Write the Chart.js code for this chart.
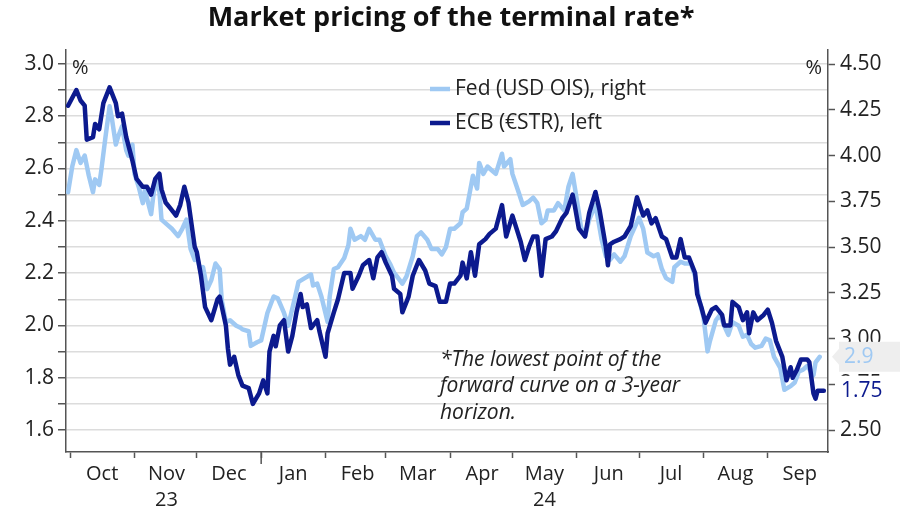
<!DOCTYPE html>
<html>
<head>
<meta charset="utf-8">
<title>Market pricing of the terminal rate</title>
<script src="https://cdn.jsdelivr.net/npm/chart.js@4.4.1/dist/chart.umd.min.js"></script>
<style>
  html, body { margin: 0; background: #fff; }
  canvas { display: block; }
</style>
</head>
<body>
<canvas id="chart" width="900" height="510"></canvas>
<script>
// days counted from 1 Oct 2023
const monthStarts = [0, 31, 61, 92, 123, 152, 183, 213, 244, 274, 305, 336];
const monthLabels = ["Oct", ["Nov", "23"], "Dec", "Jan", "Feb", "Mar", "Apr", ["May", "24"], "Jun", "Jul", "Aug", "Sep"];
const leftTicks = [1.6, 1.7, 1.8, 1.9, 2.0, 2.1, 2.2, 2.3, 2.4, 2.5, 2.6, 2.7, 2.8, 2.9, 3.0];
const rightTicks = [2.5, 2.75, 3.0, 3.25, 3.5, 3.75, 4.0, 4.25, 4.5];

// ECB (€STR), left axis
const ecbDays = [
  -1, 3, 5, 7, 8, 11, 12, 14, 16, 19,
  22, 23, 25, 27, 28, 30, 32, 35, 37, 39,
  41, 43, 44, 46, 48, 50, 51, 53, 55, 57,
  60, 61, 63, 65, 68, 71, 72, 75, 76, 77,
  79, 81, 83, 86, 88, 91, 93, 95, 96, 98,
  99, 101, 103, 105, 107, 109, 111, 112, 114, 116,
  119, 120, 123, 124, 127, 129, 132, 135, 136, 139,
  141, 144, 146, 148, 150, 152, 155, 156, 159, 160,
  163, 165, 168, 171, 173, 176, 178, 181, 183, 185,
  188, 189, 191, 193, 195, 197, 200, 202, 205, 208,
  210, 213, 215, 217, 219, 221, 223, 225, 227, 229,
  232, 234, 237, 239, 242, 243, 245, 248, 250, 253,
  255, 258, 259, 260, 262, 265, 267, 270, 273, 276,
  278, 280, 282, 285, 287, 290, 292, 294, 296, 298,
  301, 302, 304, 306, 309, 311, 314, 315, 318, 319,
  322, 324, 326, 327, 329, 331, 334, 336, 338, 340,
  343, 345, 347, 348, 350, 352, 355, 356, 358, 359,
  360, 363
];
const ecbRates = [
  2.84, 2.90, 2.86, 2.84, 2.71, 2.72, 2.77, 2.75, 2.85, 2.91,
  2.85, 2.80, 2.81, 2.72, 2.69, 2.63, 2.56, 2.53, 2.53, 2.50,
  2.56, 2.58, 2.52, 2.47, 2.45, 2.43, 2.42, 2.46, 2.53, 2.47,
  2.30, 2.28, 2.19, 2.07, 2.02, 2.10, 2.11, 2.00, 1.91, 1.85,
  1.88, 1.81, 1.77, 1.76, 1.70, 1.74, 1.79, 1.74, 1.90, 1.96,
  1.92, 2.00, 2.02, 1.90, 1.96, 2.05, 2.12, 2.07, 2.08, 1.99,
  2.02, 1.98, 1.88, 1.97, 2.05, 2.10, 2.20, 2.20, 2.14, 2.19,
  2.23, 2.25, 2.18, 2.26, 2.28, 2.24, 2.19, 2.14, 2.12, 2.05,
  2.11, 2.19, 2.25, 2.21, 2.16, 2.15, 2.09, 2.09, 2.16, 2.16,
  2.19, 2.24, 2.18, 2.28, 2.19, 2.31, 2.33, 2.35, 2.37, 2.46,
  2.34, 2.42, 2.37, 2.32, 2.25, 2.30, 2.34, 2.34, 2.19, 2.33,
  2.34, 2.36, 2.41, 2.43, 2.50, 2.46, 2.37, 2.34, 2.43, 2.51,
  2.44, 2.30, 2.23, 2.31, 2.32, 2.33, 2.34, 2.38, 2.49, 2.42,
  2.44, 2.39, 2.41, 2.34, 2.33, 2.26, 2.26, 2.33, 2.26, 2.26,
  2.20, 2.12, 2.07, 2.01, 2.06, 2.07, 2.04, 2.00, 2.00, 2.09,
  2.07, 2.02, 2.05, 1.97, 2.05, 2.02, 2.04, 2.06, 2.01, 1.94,
  1.88, 1.79, 1.84, 1.80, 1.83, 1.87, 1.87, 1.86, 1.74, 1.72,
  1.75, 1.75
];

// Fed (USD OIS), right axis
const fedDays = [
  -1, 1, 3, 5, 7, 9, 11, 12, 14, 15,
  17, 19, 20, 22, 23, 25, 27, 28, 30, 31,
  33, 35, 36, 39, 41, 43, 44, 47, 49, 52,
  54, 56, 58, 60, 61, 63, 64, 66, 68, 70,
  72, 73, 75, 77, 80, 82, 83, 86, 87, 90,
  92, 95, 98, 100, 103, 105, 108, 110, 113, 116,
  117, 119, 121, 124, 125, 127, 129, 132, 134, 135,
  137, 140, 142, 144, 147, 149, 152, 154, 156, 160,
  162, 165, 167, 169, 172, 174, 177, 179, 181, 183,
  185, 188, 189, 191, 193, 194, 196, 197, 199, 201,
  203, 205, 208, 209, 212, 213, 216, 218, 221, 223,
  225, 227, 229, 230, 233, 235, 238, 240, 242, 243,
  245, 246, 248, 250, 253, 254, 256, 258, 260, 262,
  265, 267, 270, 272, 274, 276, 278, 281, 283, 285,
  287, 290, 291, 294, 296, 299, 301, 303, 305, 307,
  308, 311, 313, 315, 317, 319, 322, 324, 326, 328,
  330, 333, 335, 337, 339, 342, 344, 347, 349, 351,
  353, 355, 358, 359, 361
];
const fedRates = [
  3.80, 3.94, 4.03, 3.96, 4.00, 3.89, 3.80, 3.87, 3.84, 3.92,
  4.10, 4.27, 4.21, 4.06, 4.10, 4.16, 4.03, 4.00, 4.06, 3.90,
  3.83, 3.74, 3.81, 3.68, 3.87, 3.80, 3.65, 3.62, 3.60, 3.56,
  3.60, 3.65, 3.49, 3.43, 3.45, 3.36, 3.39, 3.27, 3.32, 3.41,
  3.38, 3.21, 3.09, 3.10, 3.07, 3.06, 3.05, 3.04, 2.96, 2.98,
  2.99, 3.14, 3.23, 3.22, 3.14, 3.07, 3.21, 3.31, 3.33, 3.35,
  3.29, 3.30, 3.23, 3.09, 3.23, 3.38, 3.39, 3.44, 3.51, 3.60,
  3.54, 3.56, 3.54, 3.60, 3.54, 3.54, 3.45, 3.41, 3.36, 3.30,
  3.34, 3.45, 3.56, 3.58, 3.54, 3.49, 3.49, 3.46, 3.50, 3.60,
  3.60, 3.63, 3.69, 3.71, 3.83, 3.89, 3.82, 3.96, 3.90, 3.94,
  3.92, 3.90, 4.01, 3.94, 3.98, 3.90, 3.80, 3.73, 3.75, 3.77,
  3.74, 3.63, 3.65, 3.70, 3.70, 3.74, 3.70, 3.83, 3.90, 3.83,
  3.69, 3.61, 3.56, 3.65, 3.73, 3.67, 3.54, 3.45, 3.43, 3.46,
  3.42, 3.45, 3.56, 3.61, 3.66, 3.60, 3.47, 3.45, 3.46, 3.38,
  3.33, 3.31, 3.39, 3.42, 3.41, 3.41, 3.34, 3.21, 3.12, 2.93,
  2.98, 3.10, 3.13, 3.07, 3.02, 3.09, 3.07, 3.01, 3.02, 2.97,
  2.95, 2.96, 3.00, 2.99, 2.90, 2.84, 2.72, 2.74, 2.76, 2.82,
  2.83, 2.85, 2.80, 2.87, 2.90
];

const FED = "#9fc9f3";
const ECB = "#0c1a8e";
const FONT = "'Open Sans'";

const toPoints = (days, vals) => days.map((d, i) => ({ x: d, y: vals[i] }));

// title, legend, note and end-value tags drawn on top of the chart
const extras = {
  id: "extras",
  afterDraw(chart) {
    const ctx = chart.ctx;
    const area = chart.chartArea;
    const x = chart.scales.x;
    const yL = chart.scales.yL;
    const yR = chart.scales.yR;
    ctx.save();

    ctx.fillStyle = "#111";
    ctx.font = `bold 27px ${FONT}`;
    ctx.textAlign = "center";
    ctx.textBaseline = "middle";
    ctx.fillText("Market pricing of the terminal rate*", 451, 18);

    ctx.font = `20px ${FONT}`;
    ctx.fillStyle = "#222";
    ctx.textAlign = "left";
    ctx.fillText("%", area.left + 6, 68);
    ctx.textAlign = "right";
    ctx.fillText("%", area.right - 6, 68);

    // legend
    const items = [["Fed (USD OIS), right", FED, 89], ["ECB (€STR), left", ECB, 123]];
    ctx.font = `21px ${FONT}`;
    ctx.textAlign = "left";
    items.forEach(([txt, col, yy]) => {
      ctx.strokeStyle = col;
      ctx.lineWidth = 4.5;
      ctx.beginPath();
      ctx.moveTo(430, yy);
      ctx.lineTo(450, yy);
      ctx.stroke();
      ctx.fillStyle = "#222";
      ctx.fillText(txt, 455, yy);
    });

    // footnote
    ctx.font = `italic 21px ${FONT}`;
    ctx.fillStyle = "#222";
    ["*The lowest point of the", "forward curve on a 3-year", "horizon."].forEach((t, i) => {
      ctx.fillText(t, 440, 360 + i * 26.5);
    });

    // longer tick at the turn of the year
    const xj = x.getPixelForValue(monthStarts[3]);
    ctx.strokeStyle = "#555";
    ctx.lineWidth = 1.5;
    ctx.beginPath();
    ctx.moveTo(xj, area.bottom);
    ctx.lineTo(xj, area.bottom + 12);
    ctx.stroke();

    // end-value tags
    const fedLast = fedRates[fedRates.length - 1];
    const ecbLast = ecbRates[ecbRates.length - 1];
    const yf = yR.getPixelForValue(fedLast);
    const ye = yL.getPixelForValue(ecbLast);
    ctx.fillStyle = "#fff";
    ctx.fillRect(area.right + 10, ye - 15, 900 - area.right - 10, 30);
    ctx.fillStyle = "#eeeeee";
    ctx.beginPath();
    ctx.moveTo(area.right + 4, yf);
    ctx.lineTo(area.right + 11, yf - 8);
    ctx.lineTo(area.right + 11, yf - 15);
    ctx.lineTo(900, yf - 15);
    ctx.lineTo(900, yf + 15);
    ctx.lineTo(area.right + 11, yf + 15);
    ctx.lineTo(area.right + 11, yf + 8);
    ctx.closePath();
    ctx.fill();
    ctx.font = `21px ${FONT}`;
    ctx.fillStyle = FED;
    ctx.fillText(String(fedLast), area.right + 16, yf);
    ctx.fillStyle = ECB;
    ctx.fillText(String(ecbLast), area.right + 13, ye);

    ctx.restore();
  }
};

new Chart(document.getElementById("chart"), {
  type: "line",
  data: {
    datasets: [
      {
        label: "ECB (€STR), left",
        data: toPoints(ecbDays, ecbRates),
        yAxisID: "yL",
        borderColor: ECB,
        borderWidth: 4.5,
        order: 0
      },
      {
        label: "Fed (USD OIS), right",
        data: toPoints(fedDays, fedRates),
        yAxisID: "yR",
        borderColor: FED,
        borderWidth: 4.5,
        order: 1
      }
    ]
  },
  options: {
    responsive: false,
    animation: false,
    layout: { padding: { top: 50 } },
    elements: {
      point: { radius: 0 },
      line: { tension: 0, borderJoinStyle: "round", borderCapStyle: "round" }
    },
    plugins: { legend: { display: false }, tooltip: { enabled: false } },
    scales: {
      x: {
        type: "linear",
        min: -2,
        max: 365,
        afterBuildTicks: s => { s.ticks = monthStarts.map(v => ({ value: v })); },
        afterFit: s => { s.height = 58; },
        ticks: {
          autoSkip: false,
          maxRotation: 0,
          labelOffset: 32,
          padding: 3,
          color: "#222",
          font: { family: FONT, size: 20, lineHeight: 1.3 },
          callback: (v, i) => monthLabels[i]
        },
        grid: { drawOnChartArea: false, tickLength: 6, tickColor: "#555", tickWidth: 1.5 },
        border: { color: "#555", width: 1.5 }
      },
      yL: {
        position: "left",
        min: 1.516,
        max: 3.053,
        afterBuildTicks: s => { s.ticks = leftTicks.map(v => ({ value: v })); },
        afterFit: s => { s.width = 66; },
        ticks: {
          autoSkip: false,
          padding: 4,
          color: "#222",
          font: { family: FONT, size: 21 },
          callback: v => (Math.round(v * 10) % 2 === 0 ? v.toFixed(1) : "")
        },
        grid: { color: "#dcdcdc", lineWidth: 1.5, tickLength: 8, tickColor: "#555", tickWidth: 1.5 },
        border: { color: "#555", width: 1.5 }
      },
      yR: {
        position: "right",
        min: 2.380,
        max: 4.577,
        afterBuildTicks: s => { s.ticks = rightTicks.map(v => ({ value: v })); },
        afterFit: s => { s.width = 72; },
        ticks: {
          autoSkip: false,
          padding: 5,
          color: "#222",
          font: { family: FONT, size: 21 },
          callback: v => v.toFixed(2)
        },
        grid: { drawOnChartArea: false, tickLength: 7, tickColor: "#555", tickWidth: 1.5 },
        border: { color: "#555", width: 1.5 }
      }
    }
  },
  plugins: [extras]
});
</script>
</body>
</html>
